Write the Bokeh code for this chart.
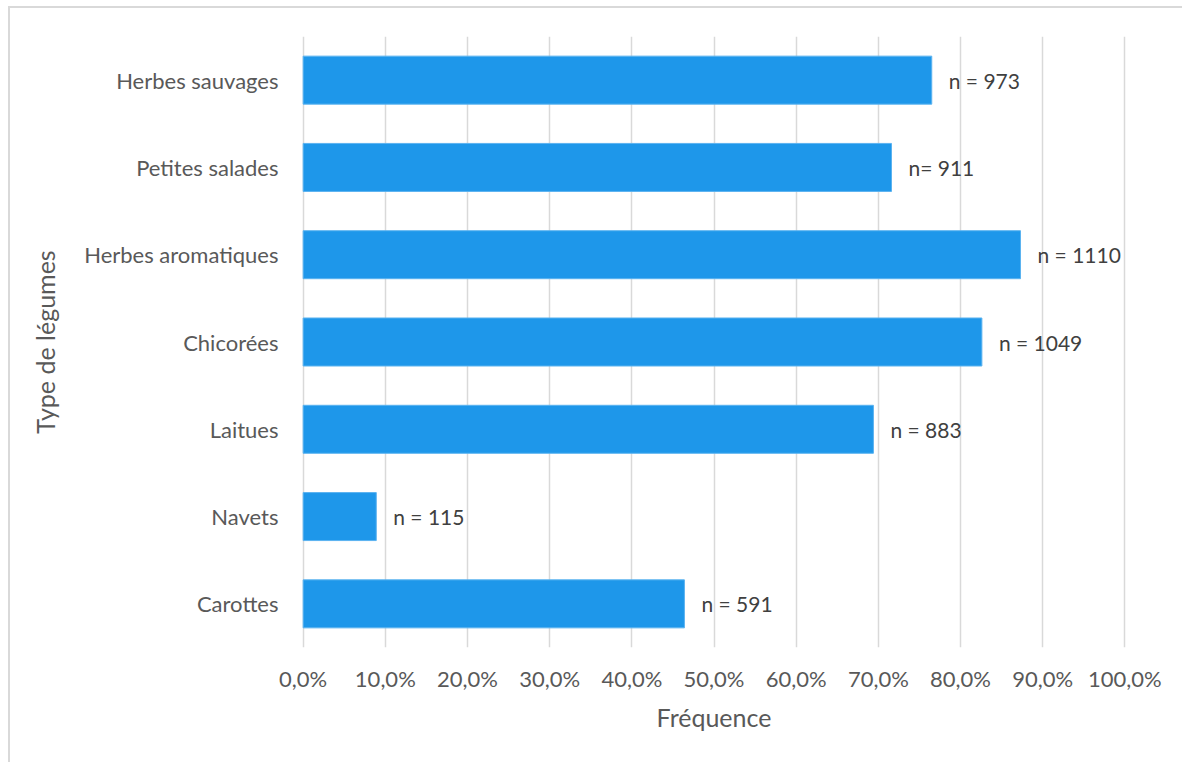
from bokeh.plotting import figure
from bokeh.models import ColumnDataSource, FactorRange, Range1d, FixedTicker
from bokeh.core.properties import value
from bokeh.embed import file_html
from bokeh.resources import INLINE

categories = ["Herbes sauvages", "Petites salades", "Herbes aromatiques", "Chicorées",
              "Laitues", "Navets", "Carottes"]
frequences = [0.765, 0.716, 0.873, 0.826, 0.694, 0.089, 0.464]
labels_n = ["n = 973", "n= 911", "n = 1110", "n = 1049", "n = 883", "n = 115", "n = 591"]
tick_values = [0.0, 0.1, 0.2, 0.3, 0.4, 0.5, 0.6, 0.7, 0.8, 0.9, 1.0]
tick_labels = ["0,0%", "10,0%", "20,0%", "30,0%", "40,0%", "50,0%", "60,0%",
               "70,0%", "80,0%", "90,0%", "100,0%"]

FONT = "Lato"
source = ColumnDataSource(dict(cat=categories, val=frequences, lab=labels_n))

p = figure(width=1182, height=762, output_backend="svg", toolbar_location=None,
           y_range=FactorRange(*list(reversed(categories)), range_padding=0),
           x_range=Range1d(-0.002, 1.002))
p.min_border_left = 301
p.min_border_right = 56
p.min_border_top = 36
p.min_border_bottom = 115
p.outline_line_color = None
p.border_fill_color = None
p.background_fill_color = None
p.styles = {"background": "linear-gradient(#d9d9d9,#d9d9d9) 8px 6px / calc(100% - 8px) 2px no-repeat, "
                          "linear-gradient(#d9d9d9,#d9d9d9) 8px 6px / 2px calc(100% - 6px) no-repeat, #ffffff"}

p.hbar(y="cat", right="val", left=0, height=0.55, source=source,
       fill_color="#1E97EA", line_color="#5BB3F0", line_width=1)
p.text(x="val", y="cat", text="lab", source=source, x_offset=17,
       text_align="left", text_baseline="middle", text_font=value(FONT),
       text_font_size="21px", text_color="#404040")

p.xaxis.ticker = FixedTicker(ticks=tick_values)
p.xaxis.major_label_overrides = {v: l for v, l in zip(tick_values, tick_labels)}
for ax in (p.xaxis, p.yaxis):
    ax.axis_line_color = None
    ax.major_tick_line_color = None
    ax.minor_tick_line_color = None
    ax.major_label_text_font = FONT
    ax.major_label_text_font_size = "22px"
    ax.major_label_text_color = "#595959"
    ax.axis_label_text_font = FONT
    ax.axis_label_text_font_size = "25px"
    ax.axis_label_text_font_style = "normal"
    ax.axis_label_text_color = "#595959"

p.xaxis.major_label_standoff = 11
p.yaxis.major_label_standoff = 17
p.xaxis.axis_label = "Fréquence"
p.yaxis.axis_label = "Type de légumes"
p.xaxis.axis_label_standoff = 7
p.yaxis.axis_label_standoff = 21

p.xgrid.grid_line_color = "#d9d9d9"
p.xgrid.grid_line_width = 1.5
p.xgrid.ticker = FixedTicker(ticks=tick_values)
p.ygrid.grid_line_color = None

open("out.html", "w").write(file_html(p, INLINE))
